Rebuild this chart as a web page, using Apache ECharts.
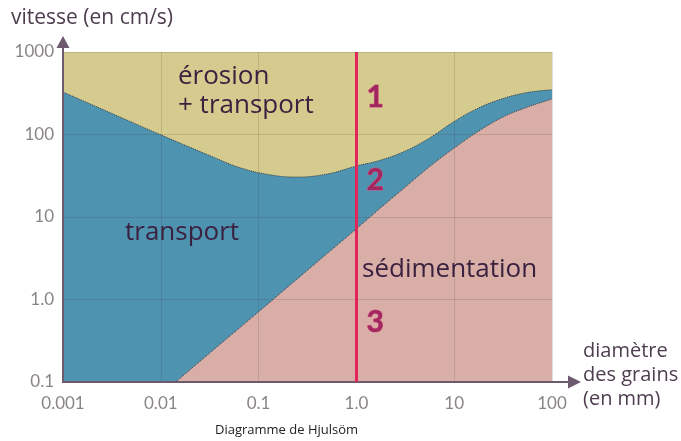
<!DOCTYPE html>
<html>
<head>
<meta charset="utf-8">
<script src="https://cdn.jsdelivr.net/npm/echarts@6/dist/echarts.min.js"></script>
<style>
  html, body { margin: 0; padding: 0; background: #ffffff; }
  #chart { width: 681px; height: 441px; }
</style>
</head>
<body>
<div id="chart"></div>
<script>
// Hjulström diagram: grain diameter (mm) vs. flow velocity (cm/s), log-log.

// Erosion threshold curve (upper boundary of the transport field)
const erosionDiameter = [0.001, 0.00316, 0.01, 0.0324, 0.0659, 0.134, 0.242, 0.505, 1, 1.78, 3.16, 5.62, 10, 17.8, 31.6, 56.2, 100];
const erosionVelocity = [327, 180, 99, 54.9, 39.3, 32.3, 30.5, 33.2, 41.5, 49, 63, 91, 144, 210, 273, 323, 348];

// Sedimentation threshold curve (lower boundary of the transport field)
const sedimentDiameter = [0.0142, 0.0316, 0.1, 0.316, 1, 1.78, 3.16, 5.62, 10, 17.8, 31.6, 56.2, 100];
const sedimentVelocity = [0.1, 0.224, 0.71, 2.27, 7.2, 13, 23.1, 40.9, 68.6, 110, 163, 215, 269];

// Axis tick labels, indexed by decade
const xTickLabels = ['0.001', '0.01', '0.1', '1.0', '10', '100'];
const yTickLabels = ['0.1', '1.0', '10', '100', '1000'];

// Grain size separating the numbered zones
const referenceDiameter = [1];

const COL_EROSION = '#d6cb8e';
const COL_TRANSPORT = '#4e93b0';
const COL_SEDIMENT = '#d9aea7';
const COL_TEXT = '#3b2140';
const COL_NUM = '#a0275f';
const COL_AXIS = '#6d5a6e';
const COL_TICK = '#8a8486';
const COL_TITLE = '#4d3d4f';

const ZONE_FONT = '500 26px "Open Sans"';
const NUM_FONT = 'bold 30px Lato';

function zip(xs, ys) { return xs.map((x, i) => [x, ys[i]]); }

const chart = echarts.init(document.getElementById('chart'), null, { renderer: 'canvas' });

const gridLine = { show: true, lineStyle: { color: 'rgba(70,50,50,0.16)', width: 1 } };

function label(text, left, top, font, fill, styleExtra) {
  return {
    type: 'text', left, top, z: 100,
    style: Object.assign({ text, font, fill }, styleExtra || {})
  };
}

function zoneNumber(text, left, top) {
  return label(text, left, top, NUM_FONT, COL_NUM, { stroke: '#d8547f', lineWidth: 1 });
}

const option = {
  animation: false,
  backgroundColor: '#ffffff',
  grid: {
    left: 63, right: 129, top: 52, bottom: 59,
    show: true, backgroundColor: COL_EROSION, borderWidth: 0
  },
  xAxis: {
    type: 'log', logBase: 10, min: 0.001, max: 100, z: 3,
    axisLine: { show: true, onZero: false, lineStyle: { color: COL_AXIS, width: 2 } },
    axisTick: { show: false },
    splitLine: gridLine,
    axisLabel: {
      color: COL_TICK, fontFamily: 'Lato', fontSize: 17, margin: 13,
      formatter: v => xTickLabels[Math.round(Math.log10(v)) + 3]
    }
  },
  yAxis: {
    type: 'log', logBase: 10, min: 0.1, max: 1000, z: 3,
    axisLine: { show: true, onZero: false, lineStyle: { color: COL_AXIS, width: 2 } },
    axisTick: { show: false },
    splitLine: gridLine,
    axisLabel: {
      color: COL_TICK, fontFamily: 'Lato', fontSize: 17, margin: 9,
      formatter: v => yTickLabels[Math.round(Math.log10(v)) + 1]
    }
  },
  series: [
    {
      name: 'transport',
      type: 'line',
      data: zip(erosionDiameter, erosionVelocity),
      smooth: 0.4,
      showSymbol: false,
      lineStyle: { color: '#2f3b44', width: 1, type: 'dotted' },
      areaStyle: { color: COL_TRANSPORT, opacity: 1, origin: 'start' },
      z: 2
    },
    {
      name: 'sédimentation',
      type: 'line',
      data: zip(sedimentDiameter, sedimentVelocity),
      smooth: 0.4,
      showSymbol: false,
      lineStyle: { color: '#2f3b44', width: 1, type: 'dotted' },
      areaStyle: { color: COL_SEDIMENT, opacity: 1, origin: 'start' },
      z: 2
    },
    {
      name: 'limite',
      type: 'line',
      data: [],
      z: 5,
      markLine: {
        silent: true,
        symbol: ['none', 'none'],
        label: { show: false },
        lineStyle: { color: '#e2265a', width: 3, type: 'solid' },
        data: referenceDiameter.map(d => ({ xAxis: d }))
      }
    }
  ],
  graphic: [
    // axis arrows
    { type: 'line', z: 100, shape: { x1: 63, y1: 52, x2: 63, y2: 46 }, style: { stroke: COL_AXIS, lineWidth: 2 } },
    { type: 'polygon', z: 100, shape: { points: [[63, 36], [56.5, 48], [69.5, 48]] }, style: { fill: COL_AXIS } },
    { type: 'line', z: 100, shape: { x1: 552, y1: 382, x2: 570, y2: 382 }, style: { stroke: COL_AXIS, lineWidth: 2 } },
    { type: 'polygon', z: 100, shape: { points: [[581, 382], [568, 375.5], [568, 388.5]] }, style: { fill: COL_AXIS } },

    // axis titles
    label('vitesse (en cm/s)', 11, 8, '21px "Open Sans"', COL_TITLE),
    label('diamètre\ndes grains\n(en mm)', 583, 339, '20px "Open Sans"', COL_TITLE, { lineHeight: 24 }),

    // zone names
    label('érosion', 178, 64, ZONE_FONT, COL_TEXT),
    label('+ transport', 178, 93, ZONE_FONT, COL_TEXT),
    label('transport', 125, 220, ZONE_FONT, COL_TEXT),
    label('sédimentation', 362, 257, ZONE_FONT, COL_TEXT),

    // zone numbers
    zoneNumber('1', 366, 82),
    zoneNumber('2', 366, 165),
    zoneNumber('3', 366, 307),

    // caption
    label('Diagramme de Hjulsöm', 215, 424, '13px "Open Sans"', '#222222')
  ]
};

chart.setOption(option);
</script>
</body>
</html>
